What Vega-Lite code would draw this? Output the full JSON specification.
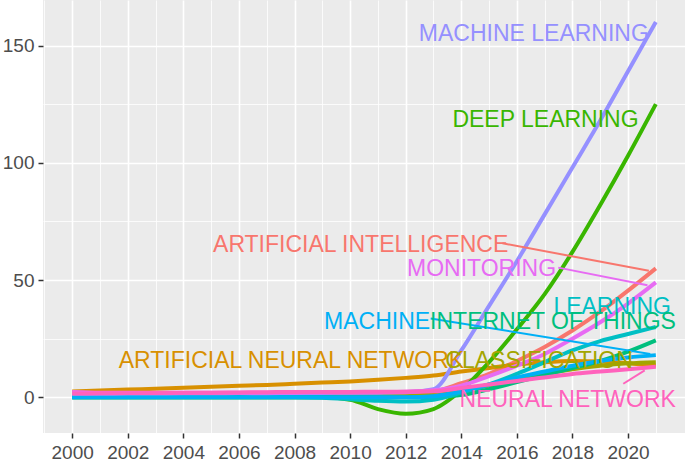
{
  "$schema": "https://vega.github.io/schema/vega-lite/v6.json",
  "autosize": "none",
  "width": 642,
  "height": 433,
  "padding": {"left": 43, "top": 0, "right": 0, "bottom": 35},
  "background": "white",
  "config": {"view": {"fill": "#EBEBEB", "stroke": null}},
  "datasets": {
    "series": [
      {"term":"ARTIFICIAL INTELLIGENCE","year":2000,"value":0.8},{"term":"ARTIFICIAL INTELLIGENCE","year":2001,"value":0.8},{"term":"ARTIFICIAL INTELLIGENCE","year":2002,"value":0.9},{"term":"ARTIFICIAL INTELLIGENCE","year":2003,"value":0.9},{"term":"ARTIFICIAL INTELLIGENCE","year":2004,"value":1},{"term":"ARTIFICIAL INTELLIGENCE","year":2005,"value":1},{"term":"ARTIFICIAL INTELLIGENCE","year":2006,"value":1},{"term":"ARTIFICIAL INTELLIGENCE","year":2007,"value":1.1},{"term":"ARTIFICIAL INTELLIGENCE","year":2008,"value":1.1},{"term":"ARTIFICIAL INTELLIGENCE","year":2009,"value":1.2},{"term":"ARTIFICIAL INTELLIGENCE","year":2010,"value":1.3},{"term":"ARTIFICIAL INTELLIGENCE","year":2011,"value":1.4},{"term":"ARTIFICIAL INTELLIGENCE","year":2012,"value":1.6},{"term":"ARTIFICIAL INTELLIGENCE","year":2013,"value":2.5},{"term":"ARTIFICIAL INTELLIGENCE","year":2014,"value":6},{"term":"ARTIFICIAL INTELLIGENCE","year":2015,"value":10},{"term":"ARTIFICIAL INTELLIGENCE","year":2016,"value":15.5},{"term":"ARTIFICIAL INTELLIGENCE","year":2017,"value":21.5},{"term":"ARTIFICIAL INTELLIGENCE","year":2018,"value":28.5},{"term":"ARTIFICIAL INTELLIGENCE","year":2019,"value":36.5},{"term":"ARTIFICIAL INTELLIGENCE","year":2020,"value":45.5},{"term":"ARTIFICIAL INTELLIGENCE","year":2021,"value":55},
      {"term":"ARTIFICIAL NEURAL NETWORK","year":2000,"value":2.5},{"term":"ARTIFICIAL NEURAL NETWORK","year":2001,"value":2.9},{"term":"ARTIFICIAL NEURAL NETWORK","year":2002,"value":3.3},{"term":"ARTIFICIAL NEURAL NETWORK","year":2003,"value":3.7},{"term":"ARTIFICIAL NEURAL NETWORK","year":2004,"value":4.1},{"term":"ARTIFICIAL NEURAL NETWORK","year":2005,"value":4.5},{"term":"ARTIFICIAL NEURAL NETWORK","year":2006,"value":4.9},{"term":"ARTIFICIAL NEURAL NETWORK","year":2007,"value":5.3},{"term":"ARTIFICIAL NEURAL NETWORK","year":2008,"value":5.8},{"term":"ARTIFICIAL NEURAL NETWORK","year":2009,"value":6.3},{"term":"ARTIFICIAL NEURAL NETWORK","year":2010,"value":6.8},{"term":"ARTIFICIAL NEURAL NETWORK","year":2011,"value":7.5},{"term":"ARTIFICIAL NEURAL NETWORK","year":2012,"value":8.3},{"term":"ARTIFICIAL NEURAL NETWORK","year":2013,"value":9.3},{"term":"ARTIFICIAL NEURAL NETWORK","year":2014,"value":11},{"term":"ARTIFICIAL NEURAL NETWORK","year":2015,"value":12.5},{"term":"ARTIFICIAL NEURAL NETWORK","year":2016,"value":14},{"term":"ARTIFICIAL NEURAL NETWORK","year":2017,"value":15},{"term":"ARTIFICIAL NEURAL NETWORK","year":2018,"value":15.5},{"term":"ARTIFICIAL NEURAL NETWORK","year":2019,"value":15.3},{"term":"ARTIFICIAL NEURAL NETWORK","year":2020,"value":14.5},{"term":"ARTIFICIAL NEURAL NETWORK","year":2021,"value":13.5},
      {"term":"CLASSIFICATION","year":2000,"value":0.5},{"term":"CLASSIFICATION","year":2001,"value":0.5},{"term":"CLASSIFICATION","year":2002,"value":0.5},{"term":"CLASSIFICATION","year":2003,"value":0.5},{"term":"CLASSIFICATION","year":2004,"value":0.5},{"term":"CLASSIFICATION","year":2005,"value":0.5},{"term":"CLASSIFICATION","year":2006,"value":0.5},{"term":"CLASSIFICATION","year":2007,"value":0.5},{"term":"CLASSIFICATION","year":2008,"value":0.5},{"term":"CLASSIFICATION","year":2009,"value":0.5},{"term":"CLASSIFICATION","year":2010,"value":0.5},{"term":"CLASSIFICATION","year":2011,"value":0.5},{"term":"CLASSIFICATION","year":2012,"value":0.5},{"term":"CLASSIFICATION","year":2013,"value":1},{"term":"CLASSIFICATION","year":2014,"value":2.5},{"term":"CLASSIFICATION","year":2015,"value":5},{"term":"CLASSIFICATION","year":2016,"value":7.5},{"term":"CLASSIFICATION","year":2017,"value":10},{"term":"CLASSIFICATION","year":2018,"value":12},{"term":"CLASSIFICATION","year":2019,"value":13.5},{"term":"CLASSIFICATION","year":2020,"value":14.5},{"term":"CLASSIFICATION","year":2021,"value":15},
      {"term":"DEEP LEARNING","year":2000,"value":0},{"term":"DEEP LEARNING","year":2001,"value":0},{"term":"DEEP LEARNING","year":2002,"value":0},{"term":"DEEP LEARNING","year":2003,"value":0},{"term":"DEEP LEARNING","year":2004,"value":0},{"term":"DEEP LEARNING","year":2005,"value":0},{"term":"DEEP LEARNING","year":2006,"value":0},{"term":"DEEP LEARNING","year":2007,"value":0},{"term":"DEEP LEARNING","year":2008,"value":0},{"term":"DEEP LEARNING","year":2009,"value":0},{"term":"DEEP LEARNING","year":2010,"value":-1},{"term":"DEEP LEARNING","year":2011,"value":-5},{"term":"DEEP LEARNING","year":2012,"value":-7},{"term":"DEEP LEARNING","year":2013,"value":-5},{"term":"DEEP LEARNING","year":2014,"value":3},{"term":"DEEP LEARNING","year":2015,"value":15},{"term":"DEEP LEARNING","year":2016,"value":29},{"term":"DEEP LEARNING","year":2017,"value":44},{"term":"DEEP LEARNING","year":2018,"value":62},{"term":"DEEP LEARNING","year":2019,"value":82},{"term":"DEEP LEARNING","year":2020,"value":103},{"term":"DEEP LEARNING","year":2021,"value":125},
      {"term":"INTERNET OF THINGS","year":2000,"value":0},{"term":"INTERNET OF THINGS","year":2001,"value":0},{"term":"INTERNET OF THINGS","year":2002,"value":0},{"term":"INTERNET OF THINGS","year":2003,"value":0},{"term":"INTERNET OF THINGS","year":2004,"value":0},{"term":"INTERNET OF THINGS","year":2005,"value":0},{"term":"INTERNET OF THINGS","year":2006,"value":0},{"term":"INTERNET OF THINGS","year":2007,"value":0},{"term":"INTERNET OF THINGS","year":2008,"value":0},{"term":"INTERNET OF THINGS","year":2009,"value":0},{"term":"INTERNET OF THINGS","year":2010,"value":0},{"term":"INTERNET OF THINGS","year":2011,"value":0},{"term":"INTERNET OF THINGS","year":2012,"value":0},{"term":"INTERNET OF THINGS","year":2013,"value":0.3},{"term":"INTERNET OF THINGS","year":2014,"value":1},{"term":"INTERNET OF THINGS","year":2015,"value":3.5},{"term":"INTERNET OF THINGS","year":2016,"value":6.5},{"term":"INTERNET OF THINGS","year":2017,"value":9.5},{"term":"INTERNET OF THINGS","year":2018,"value":12.5},{"term":"INTERNET OF THINGS","year":2019,"value":15.5},{"term":"INTERNET OF THINGS","year":2020,"value":19.5},{"term":"INTERNET OF THINGS","year":2021,"value":24.3},
      {"term":"LEARNING","year":2000,"value":0},{"term":"LEARNING","year":2001,"value":0},{"term":"LEARNING","year":2002,"value":0},{"term":"LEARNING","year":2003,"value":0},{"term":"LEARNING","year":2004,"value":0},{"term":"LEARNING","year":2005,"value":0},{"term":"LEARNING","year":2006,"value":0},{"term":"LEARNING","year":2007,"value":0},{"term":"LEARNING","year":2008,"value":0},{"term":"LEARNING","year":2009,"value":-0.2},{"term":"LEARNING","year":2010,"value":-0.8},{"term":"LEARNING","year":2011,"value":-1.5},{"term":"LEARNING","year":2012,"value":-1.8},{"term":"LEARNING","year":2013,"value":-1},{"term":"LEARNING","year":2014,"value":2},{"term":"LEARNING","year":2015,"value":5.5},{"term":"LEARNING","year":2016,"value":10},{"term":"LEARNING","year":2017,"value":15},{"term":"LEARNING","year":2018,"value":20},{"term":"LEARNING","year":2019,"value":24},{"term":"LEARNING","year":2020,"value":27},{"term":"LEARNING","year":2021,"value":30},
      {"term":"MACHINE","year":2000,"value":0},{"term":"MACHINE","year":2001,"value":0},{"term":"MACHINE","year":2002,"value":0},{"term":"MACHINE","year":2003,"value":0},{"term":"MACHINE","year":2004,"value":0},{"term":"MACHINE","year":2005,"value":0},{"term":"MACHINE","year":2006,"value":0},{"term":"MACHINE","year":2007,"value":0},{"term":"MACHINE","year":2008,"value":0},{"term":"MACHINE","year":2009,"value":0},{"term":"MACHINE","year":2010,"value":0},{"term":"MACHINE","year":2011,"value":0},{"term":"MACHINE","year":2012,"value":0},{"term":"MACHINE","year":2013,"value":0.5},{"term":"MACHINE","year":2014,"value":2.5},{"term":"MACHINE","year":2015,"value":5.5},{"term":"MACHINE","year":2016,"value":8.5},{"term":"MACHINE","year":2017,"value":11},{"term":"MACHINE","year":2018,"value":13.5},{"term":"MACHINE","year":2019,"value":15.5},{"term":"MACHINE","year":2020,"value":17},{"term":"MACHINE","year":2021,"value":18},
      {"term":"MACHINE LEARNING","year":2000,"value":1.5},{"term":"MACHINE LEARNING","year":2001,"value":1.5},{"term":"MACHINE LEARNING","year":2002,"value":1.6},{"term":"MACHINE LEARNING","year":2003,"value":1.6},{"term":"MACHINE LEARNING","year":2004,"value":1.7},{"term":"MACHINE LEARNING","year":2005,"value":1.7},{"term":"MACHINE LEARNING","year":2006,"value":1.8},{"term":"MACHINE LEARNING","year":2007,"value":1.8},{"term":"MACHINE LEARNING","year":2008,"value":1.9},{"term":"MACHINE LEARNING","year":2009,"value":1.9},{"term":"MACHINE LEARNING","year":2010,"value":2},{"term":"MACHINE LEARNING","year":2011,"value":2},{"term":"MACHINE LEARNING","year":2012,"value":2.2},{"term":"MACHINE LEARNING","year":2013,"value":3.5},{"term":"MACHINE LEARNING","year":2014,"value":20},{"term":"MACHINE LEARNING","year":2015,"value":39},{"term":"MACHINE LEARNING","year":2016,"value":58},{"term":"MACHINE LEARNING","year":2017,"value":78},{"term":"MACHINE LEARNING","year":2018,"value":98},{"term":"MACHINE LEARNING","year":2019,"value":118},{"term":"MACHINE LEARNING","year":2020,"value":139},{"term":"MACHINE LEARNING","year":2021,"value":160},
      {"term":"MONITORING","year":2000,"value":2.3},{"term":"MONITORING","year":2001,"value":2},{"term":"MONITORING","year":2002,"value":2},{"term":"MONITORING","year":2003,"value":2},{"term":"MONITORING","year":2004,"value":2},{"term":"MONITORING","year":2005,"value":2},{"term":"MONITORING","year":2006,"value":2},{"term":"MONITORING","year":2007,"value":2},{"term":"MONITORING","year":2008,"value":2},{"term":"MONITORING","year":2009,"value":2.1},{"term":"MONITORING","year":2010,"value":2.1},{"term":"MONITORING","year":2011,"value":2.2},{"term":"MONITORING","year":2012,"value":2.4},{"term":"MONITORING","year":2013,"value":3},{"term":"MONITORING","year":2014,"value":5},{"term":"MONITORING","year":2015,"value":9},{"term":"MONITORING","year":2016,"value":13.5},{"term":"MONITORING","year":2017,"value":18.5},{"term":"MONITORING","year":2018,"value":25},{"term":"MONITORING","year":2019,"value":32},{"term":"MONITORING","year":2020,"value":40},{"term":"MONITORING","year":2021,"value":49},
      {"term":"NEURAL NETWORK","year":2000,"value":1.6},{"term":"NEURAL NETWORK","year":2001,"value":1.7},{"term":"NEURAL NETWORK","year":2002,"value":1.8},{"term":"NEURAL NETWORK","year":2003,"value":1.9},{"term":"NEURAL NETWORK","year":2004,"value":2},{"term":"NEURAL NETWORK","year":2005,"value":2},{"term":"NEURAL NETWORK","year":2006,"value":2.1},{"term":"NEURAL NETWORK","year":2007,"value":2.2},{"term":"NEURAL NETWORK","year":2008,"value":2.3},{"term":"NEURAL NETWORK","year":2009,"value":2.3},{"term":"NEURAL NETWORK","year":2010,"value":2.3},{"term":"NEURAL NETWORK","year":2011,"value":2.4},{"term":"NEURAL NETWORK","year":2012,"value":2.4},{"term":"NEURAL NETWORK","year":2013,"value":2.6},{"term":"NEURAL NETWORK","year":2014,"value":4},{"term":"NEURAL NETWORK","year":2015,"value":5.5},{"term":"NEURAL NETWORK","year":2016,"value":7},{"term":"NEURAL NETWORK","year":2017,"value":8.5},{"term":"NEURAL NETWORK","year":2018,"value":10},{"term":"NEURAL NETWORK","year":2019,"value":11},{"term":"NEURAL NETWORK","year":2020,"value":12},{"term":"NEURAL NETWORK","year":2021,"value":13}
    ],
    "labels": [
      {"term":"MACHINE LEARNING","year":2016.61,"value":154.8},
      {"term":"DEEP LEARNING","year":2017.03,"value":118.3},
      {"term":"ARTIFICIAL INTELLIGENCE","year":2010.38,"value":65.1},
      {"term":"MONITORING","year":2014.73,"value":54.9},
      {"term":"LEARNING","year":2019.43,"value":38.6},
      {"term":"INTERNET OF THINGS","year":2017.3,"value":32},
      {"term":"MACHINE","year":2010.97,"value":32},
      {"term":"ARTIFICIAL NEURAL NETWORK","year":2007.89,"value":15.7},
      {"term":"CLASSIFICATION","year":2016.8,"value":15.7},
      {"term":"NEURAL NETWORK","year":2017.83,"value":-1.3}
    ],
    "segs": [
      {"term":"ARTIFICIAL INTELLIGENCE","year":2015.48,"value":65.7,"year2":2020.75,"value2":54},
      {"term":"MONITORING","year":2017.49,"value":55.3,"year2":2020.7,"value2":47.8},
      {"term":"MACHINE","year":2012.9,"value":33.6,"year2":2020.8,"value2":18.5},
      {"term":"NEURAL NETWORK","year":2019.83,"value":5.8,"year2":2020.6,"value2":11.5},
      {"term":"CLASSIFICATION","year":2019.95,"value":14.6,"year2":2020.5,"value2":14.4}
    ]
  },
  "encoding": {
    "x": {"field": "year", "type": "quantitative",
      "scale": {"domain": [1998.95, 2022.05], "nice": false, "zero": false},
      "axis": {"title": null, "orient": "bottom", "values": [1999,2000,2001,2002,2003,2004,2005,2006,2007,2008,2009,2010,2011,2012,2013,2014,2015,2016,2017,2018,2019,2020,2021],
        "labelExpr": "datum.value % 2 === 0 ? '' + datum.value : ''",
        "domain": false, "grid": true, "gridColor": "#FFFFFF",
        "gridWidth": {"condition": {"test": "datum.value % 2 !== 0", "value": 0.8}, "value": 1.6},
        "tickColor": "#333333", "tickSize": 5, "tickWidth": 1.5,
        "tickOpacity": {"condition": {"test": "datum.value % 2 !== 0", "value": 0}, "value": 1},
        "labelFont": "Liberation Sans", "labelFontSize": 19, "labelColor": "#4D4D4D", "labelPadding": 5, "labelFlush": false, "labelOverlap": false}},
    "y": {"field": "value", "type": "quantitative",
      "scale": {"domain": [-15.2, 169.4], "nice": false, "zero": false},
      "axis": {"title": null, "orient": "left", "values": [0,25,50,75,100,125,150],
        "labelExpr": "datum.value % 50 === 0 ? datum.label : ''",
        "domain": false, "grid": true, "gridColor": "#FFFFFF",
        "gridWidth": {"condition": {"test": "datum.value % 50 !== 0", "value": 0.8}, "value": 1.6},
        "tickColor": "#333333", "tickSize": 5, "tickWidth": 1.5,
        "tickOpacity": {"condition": {"test": "datum.value % 50 !== 0", "value": 0}, "value": 1},
        "labelFont": "Liberation Sans", "labelFontSize": 19, "labelColor": "#4D4D4D", "labelPadding": 4, "labelFlush": false, "labelOverlap": false}}
  },
  "layer": [
    {
      "data": {"name": "series"},
      "mark": {"type": "line", "strokeWidth": 4, "interpolate": "monotone", "clip": true},
      "encoding": {
        "color": {"field": "term", "type": "nominal", "legend": null,
          "scale": {"domain": ["ARTIFICIAL INTELLIGENCE","ARTIFICIAL NEURAL NETWORK","CLASSIFICATION","DEEP LEARNING","INTERNET OF THINGS","LEARNING","MACHINE","MACHINE LEARNING","MONITORING","NEURAL NETWORK"],
            "range": ["#F8766D","#D89000","#A3A500","#39B600","#00BF7D","#00BFC4","#00B0F6","#9590FF","#E76BF3","#FF62BC"]}}
      }
    },
    {
      "data": {"values": [{"term": "zero"}]},
      "mark": {"type": "rule", "color": "#3A3A3A", "strokeWidth": 2},
      "encoding": {"x": {"datum": 1998.95}, "x2": {"datum": 2022.05}, "y": {"datum": 0}}
    },
    {
      "data": {"name": "segs"},
      "mark": {"type": "rule", "strokeWidth": 2},
      "encoding": {
        "x2": {"field": "year2"},
        "y2": {"field": "value2"},
        "color": {"field": "term", "type": "nominal", "legend": null}
      }
    },
    {
      "data": {"name": "labels"},
      "mark": {"type": "text", "font": "Liberation Sans", "fontSize": 23, "align": "center", "baseline": "middle"},
      "encoding": {
        "text": {"field": "term"},
        "color": {"field": "term", "type": "nominal", "legend": null}
      }
    }
  ]
}
